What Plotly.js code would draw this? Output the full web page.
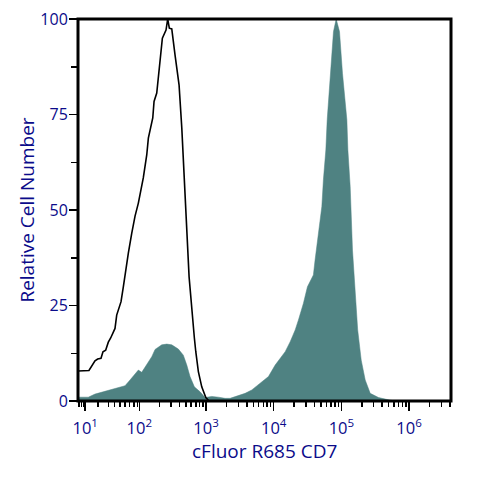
<!DOCTYPE html>
<html><head><meta charset="utf-8">
<script src="https://cdn.plot.ly/plotly-3.0.1.min.js"></script>
<style>html,body{margin:0;padding:0;background:#fff}#c{width:480px;height:480px}</style>
</head><body><div id="c"></div>
<script>
// x values are positions on the cytometer's biexponential scale, in decades
const stainedX=[1.122,1.259,1.358,1.458,1.555,1.654,1.802,1.876,1.950,1.999,2.049,2.123,2.197,2.246,2.345,2.419,2.493,2.590,2.664,2.715,2.763,2.827,2.911,2.985,3.084,3.182,3.281,3.355,3.454,3.577,3.676,3.799,3.922,4.021,4.095,4.169,4.243,4.317,4.365,4.439,4.498,4.586,4.611,4.660,4.711,4.734,4.770,4.790,4.834,4.883,4.923,4.972,5.016,5.081,5.096,5.130,5.164,5.204,5.241,5.293,5.352,5.426,5.549,5.697,5.796];
const stainedY=[1.0,1.0,1.8,2.3,2.7,3.1,4.0,5.5,7.1,8.1,7.5,9.4,11.6,13.5,14.7,14.9,14.7,13.6,12.0,9.4,6.4,3.7,2.4,0.9,1.2,1.0,0.7,0.7,1.3,2.0,2.9,4.6,6.4,9.4,11.2,12.9,15.5,18.6,21.2,25.6,29.9,33.0,36.9,43.9,50.9,57.9,65.7,73.6,85.8,96.7,100,96.7,85.8,73.6,65.7,56.1,39.5,28.2,18.6,10.7,5.5,2.0,0.9,0.3,0];
const controlX=[1.110,1.269,1.358,1.398,1.447,1.476,1.516,1.555,1.590,1.654,1.679,1.743,1.777,1.812,1.851,1.901,1.950,1.999,2.072,2.123,2.147,2.212,2.231,2.271,2.309,2.354,2.408,2.433,2.457,2.493,2.541,2.601,2.641,2.664,2.689,2.715,2.749,2.789,2.827,2.848,2.886,2.936,2.996,3.034];
const controlY=[7.85,8.0,10.5,11,11.2,12.9,13.3,15.4,16.5,19.0,22.5,26,29.9,34.7,38.7,43.9,48.4,51.8,58.4,64.4,68.8,74.1,78.4,80.6,88.0,95.0,97.1,100,97.6,97.4,90.6,82.7,71.5,61.8,51.8,44.8,32.5,23.0,16.5,12.9,7.7,3.7,0.9,0.2];
const xTickVals=[1.214,2.013,3,4,5,6];
const xTickText=['10<sup>1</sup>','10<sup>2</sup>','10<sup>3</sup>','10<sup>4</sup>','10<sup>5</sup>','10<sup>6</sup>'];
const xMinorVals=[1.122,1.156,1.186,1.404,1.555,1.649,1.728,1.802,1.865,1.935,1.990,
 2.31,2.48,2.61,2.70,2.78,2.85,2.90,2.955,
 3.301,3.477,3.602,3.699,3.778,3.845,3.903,3.954,
 4.301,4.477,4.602,4.699,4.778,4.845,4.903,4.954,
 5.301,5.477,5.602,5.699,5.778,5.845,5.903,5.954,
 6.301,6.477,6.602];
const yTickVals=[0,25,50,75,100];
const yMinorVals=[12.5,37.5,62.5,87.5];
const xTitle='cFluor R685 CD7';
const yTitle='Relative Cell Number';

const navy='#0b0b8a', font='"Open Sans", sans-serif';
const data=[
 {x:stainedX,y:stainedY,type:'scatter',mode:'lines',fill:'tozeroy',fillcolor:'#4f8282',line:{color:'#4f8282',width:0.5}},
 {x:controlX,y:controlY,type:'scatter',mode:'lines',line:{color:'#000',width:1.6}}
];
const axisBase={showgrid:false,zeroline:false,showline:false,
 ticks:'outside',tickcolor:'#000',tickwidth:1.5,ticklen:9};
const layout={
 width:480,height:480,showlegend:false,paper_bgcolor:'#fff',plot_bgcolor:'#fff',
 margin:{l:78,r:29.3,t:19,b:79,pad:0},
 shapes:[{type:'rect',xref:'paper',yref:'paper',x0:0,x1:1,y0:0,y1:1,line:{color:'#000',width:3},fillcolor:'rgba(0,0,0,0)',layer:'above'}],
 annotations:[{text:xTitle,xref:'paper',yref:'paper',x:0.499,y:-0.131,xanchor:'center',yanchor:'middle',showarrow:false,
  font:{family:font,size:19,color:navy}}],
 xaxis:Object.assign({},axisBase,{range:[1.107,6.620],tickmode:'array',tickvals:xTickVals,ticktext:xTickText,tickangle:0,
  tickfont:{family:font,size:16.5,color:navy},ticklabelstandoff:3,
  minor:{tickmode:'array',tickvals:xMinorVals,ticks:'outside',ticklen:5,tickwidth:1.5,tickcolor:'#000',showgrid:false}}),
 yaxis:Object.assign({},axisBase,{range:[0,100],tickmode:'array',tickvals:yTickVals,ticklen:8,
  tickfont:{family:font,size:16,color:navy},ticklabelstandoff:-2,
  title:{text:yTitle,font:{family:font,size:19,color:navy},standoff:0},
  minor:{tickmode:'array',tickvals:yMinorVals,ticks:'outside',ticklen:6,tickwidth:1.5,tickcolor:'#000',showgrid:false}})
};
Plotly.newPlot('c',data,layout,{displayModeBar:false,staticPlot:true});
</script></body></html>
